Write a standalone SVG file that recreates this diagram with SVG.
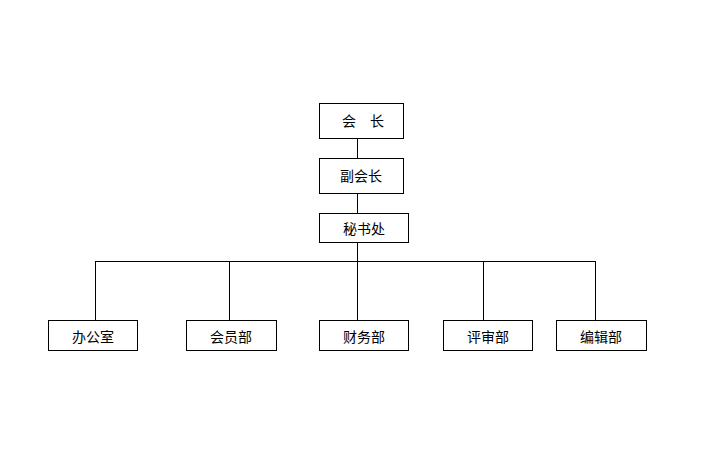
<svg xmlns="http://www.w3.org/2000/svg" width="727" height="454" viewBox="0 0 727 454">
<style>
.box{fill:#fff;stroke:#000;stroke-width:1}
line{stroke:#000;stroke-width:1}
text{font-family:"Noto Sans CJK SC",sans-serif;font-size:14px;text-anchor:middle;dominant-baseline:central}
</style>
<rect width="727" height="454" fill="#fff"/>
<g id="connectors">
<line x1="357.5" y1="139" x2="357.5" y2="158"/>
<line x1="357.5" y1="194" x2="357.5" y2="213"/>
<line x1="357.5" y1="242" x2="357.5" y2="320"/>
<line x1="95.5" y1="261.5" x2="595.5" y2="261.5"/>
<line x1="95.5" y1="261" x2="95.5" y2="320"/>
<line x1="229.5" y1="261" x2="229.5" y2="320"/>
<line x1="483.5" y1="261" x2="483.5" y2="320"/>
<line x1="595.5" y1="261" x2="595.5" y2="320"/>
</g>
<g id="n1"><rect class="box" x="319.5" y="103.5" width="84" height="35"/><text x="349" y="120">会</text><text x="377" y="120">长</text></g>
<g id="n2"><rect class="box" x="319.5" y="158.5" width="84" height="35"/><text x="361" y="175">副会长</text></g>
<g id="n3"><rect class="box" x="319.5" y="213.5" width="89" height="29"/><text x="364" y="228">秘书处</text></g>
<g id="n4"><rect class="box" x="48.5" y="320.5" width="89" height="30"/><text x="93" y="336">办公室</text></g>
<g id="n5"><rect class="box" x="186.5" y="320.5" width="90" height="30"/><text x="231" y="336">会员部</text></g>
<g id="n6"><rect class="box" x="319.5" y="320.5" width="89" height="30"/><text x="364" y="336">财务部</text></g>
<g id="n7"><rect class="box" x="443.5" y="320.5" width="89" height="30"/><text x="488" y="336">评审部</text></g>
<g id="n8"><rect class="box" x="556.5" y="320.5" width="90" height="30"/><text x="601" y="336">编辑部</text></g>
</svg>
